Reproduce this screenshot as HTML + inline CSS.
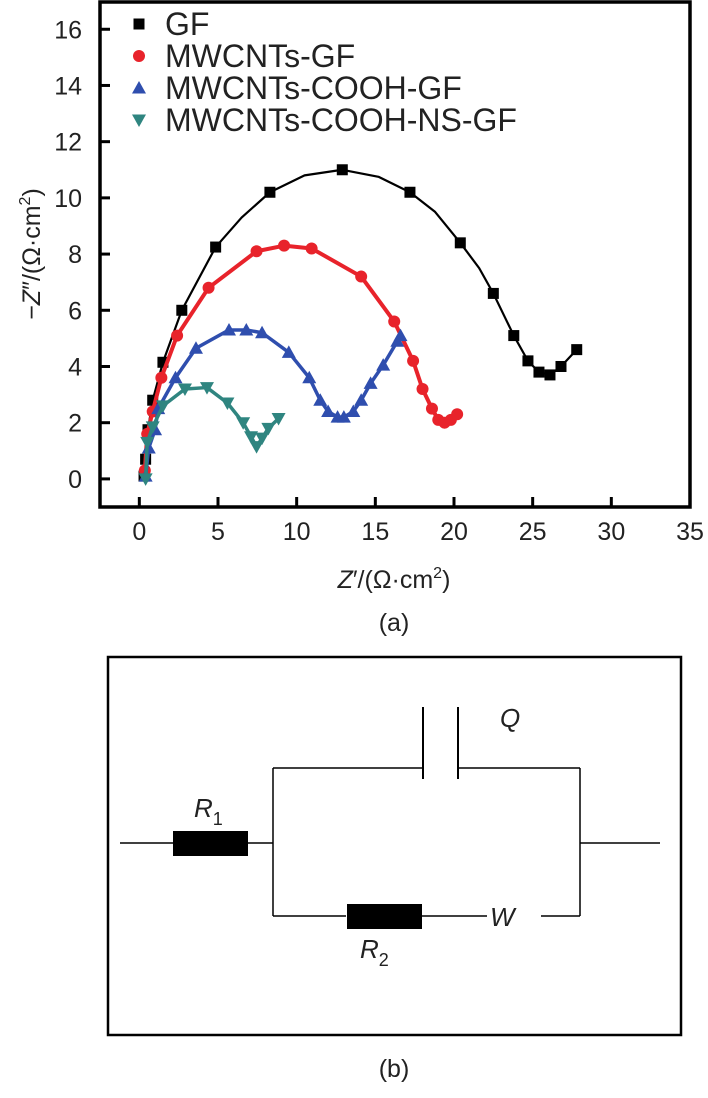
<!DOCTYPE html>
<html><head><meta charset="utf-8"><style>
html,body{margin:0;padding:0;background:#fff;}
svg{display:block;font-family:"Liberation Sans",Arial,sans-serif;}
</style></head><body>
<svg id="fig" width="708" height="1098" viewBox="0 0 708 1098">
<g id="chart"></g>
<g stroke="#000" fill="none">
  <rect x="108" y="657" width="573" height="378" stroke-width="2.5"/>
  <g stroke-width="1.5">
    <line x1="120" y1="843" x2="173" y2="843"/>
    <line x1="248" y1="843" x2="273" y2="843"/>
    <line x1="273" y1="768" x2="273" y2="916"/>
    <line x1="273" y1="768" x2="423" y2="768"/>
    <line x1="458" y1="768" x2="580" y2="768"/>
    <line x1="423" y1="707" x2="423" y2="779" stroke-width="2"/>
    <line x1="458" y1="707" x2="458" y2="779" stroke-width="2"/>
    <line x1="580" y1="768" x2="580" y2="916"/>
    <line x1="580" y1="843" x2="660" y2="843"/>
    <line x1="273" y1="916" x2="346" y2="916"/>
    <line x1="421" y1="916" x2="487" y2="916"/>
    <line x1="541" y1="916" x2="580" y2="916"/>
  </g>
  <rect x="173" y="831" width="75" height="25" fill="#000" stroke="none"/>
  <rect x="347" y="904" width="75" height="25" fill="#000" stroke="none"/>
  <g fill="#222" stroke="none" font-size="26" font-style="italic">
    <text x="194" y="817">R<tspan font-style="normal" font-size="18" dy="8">1</tspan></text>
    <text x="360" y="958">R<tspan font-style="normal" font-size="18" dy="8">2</tspan></text>
    <text x="500" y="727">Q</text>
    <text x="490" y="926">W</text>
  </g>
</g>
<text x="394" y="631" font-size="25" text-anchor="middle" fill="#222">(a)</text>
<text x="394" y="1077" font-size="25" text-anchor="middle" fill="#222">(b)</text>
</svg>
<script>
var xTicks=[0,5,10,15,20,25,30,35];
var yTicks=[0,2,4,6,8,10,12,14,16];
var seriesNames=["GF","MWCNTs-GF","MWCNTs-COOH-GF","MWCNTs-COOH-NS-GF"];
var gfX=[0.3,0.4,0.55,0.85,1.5,2.7,4.85,6.5,8.3,10.5,12.9,15.2,17.2,18.8,20.4,21.6,22.5,23.8,24.7,25.4,26.1,26.8,27.8];
var gfY=[0.1,0.7,1.75,2.8,4.15,6.0,8.25,9.3,10.2,10.8,11.0,10.75,10.2,9.5,8.4,7.5,6.6,5.1,4.2,3.8,3.7,4.0,4.6];
var gfMark=[1,1,1,1,1,1,1,0,1,0,1,0,1,0,1,0,1,1,1,1,1,1,1];
var mwX=[0.35,0.5,0.85,1.4,2.4,4.4,7.45,9.2,10.95,14.1,16.2,17.4,18.0,18.6,19.0,19.4,19.8,20.2];
var mwY=[0.3,1.6,2.4,3.6,5.1,6.8,8.1,8.3,8.2,7.2,5.6,4.2,3.2,2.5,2.1,2.0,2.1,2.3];
var cooX=[0.4,0.6,1.0,1.2,2.3,3.6,5.7,6.8,7.8,9.5,10.8,11.5,12.0,12.6,13.0,13.6,14.1,14.7,15.5,16.4,16.6];
var cooY=[0.1,1.1,1.75,2.5,3.6,4.65,5.3,5.3,5.2,4.5,3.6,2.8,2.4,2.2,2.2,2.4,2.8,3.4,4.05,4.9,5.1];
var nsX=[0.4,0.5,0.85,1.5,2.9,4.3,5.6,6.6,7.1,7.45,7.8,8.2,8.85];
var nsY=[0.0,1.3,1.85,2.6,3.2,3.25,2.7,2.0,1.5,1.15,1.45,1.8,2.15];

var NS="http://www.w3.org/2000/svg";
var L=100,R=690,T=2,B=507,XMIN=-2.5,XMAX=35,YMIN=-1,YMAX=16.97;
function sx(v){return L+(v-XMIN)/(XMAX-XMIN)*(R-L);}
function sy(v){return B-(v-YMIN)/(YMAX-YMIN)*(B-T);}
var g=document.getElementById('chart');
function mk(tag,attrs,parent){var e=document.createElementNS(NS,tag);for(var k in attrs)e.setAttribute(k,attrs[k]);(parent||g).appendChild(e);return e;}
var col=["#000000","#e8232b","#2f4eae","#2f8580"];
var lw=[2.2,4,3.5,3.5];
var xs=[gfX,mwX,cooX,nsX],ys=[gfY,mwY,cooY,nsY];
function marker(i,x,y,par){
  var e;
  if(i===0){e=mk('rect',{x:x-5.5,y:y-5.5,width:11,height:11,fill:col[0]},par);}
  else if(i===1){e=mk('circle',{cx:x,cy:y,r:6,fill:col[1]},par);}
  else if(i===2){e=mk('polygon',{points:(x)+','+(y-7)+' '+(x-7)+','+(y+5.5)+' '+(x+7)+','+(y+5.5),fill:col[2]},par);}
  else {e=mk('polygon',{points:(x)+','+(y+7)+' '+(x-7)+','+(y-5.5)+' '+(x+7)+','+(y-5.5),fill:col[3]},par);}
  return e;
}
for(var i=0;i<4;i++){
  var sg=mk('g',{});
  
  
  var pts=xs[i].map(function(v,j){return sx(v)+','+sy(ys[i][j]);}).join(' ');
  var pl=mk('polyline',{points:pts,fill:'none',stroke:col[i],'stroke-width':lw[i],'stroke-linejoin':'round'},sg);
  
  
  for(var j=0;j<xs[i].length;j++){
    if(i===0&&!gfMark[j])continue;
    var m=marker(i,sx(xs[i][j]),sy(ys[i][j]),sg);
    
    
  }
}
var fr=mk('rect',{x:L,y:T,width:R-L,height:B-T,fill:'none',stroke:'#000','stroke-width':3.5});


xTicks.forEach(function(t){
  var x=sx(t);
  var tl=mk('line',{x1:x,y1:B,x2:x,y2:B-10,stroke:'#000','stroke-width':3});
  
  
  var tx=mk('text',{x:x,y:B+33,'font-size':25,'text-anchor':'middle',fill:'#222'});
  tx.textContent=t;
  
  
});
yTicks.forEach(function(t){
  var y=sy(t);
  var tl=mk('line',{x1:L,y1:y,x2:L+10,y2:y,stroke:'#000','stroke-width':3});
  
  
  var tx=mk('text',{x:L-18,y:y+9,'font-size':25,'text-anchor':'end',fill:'#222'});
  tx.textContent=t;
  
  
});
var xt=mk('text',{x:394,y:588,'font-size':25,'text-anchor':'middle',fill:'#222'});
xt.innerHTML='<tspan font-style="italic">Z</tspan>\u2032/(\u03A9\u00B7cm<tspan font-size="16" dy="-10">2</tspan><tspan dy="10">)</tspan>';


var yt=mk('text',{x:0,y:0,'font-size':25,'text-anchor':'middle',fill:'#222',transform:'translate(40,254) rotate(-90)'});
yt.innerHTML='\u2212<tspan font-style="italic">Z</tspan>\u2033/(\u03A9\u00B7cm<tspan font-size="16" dy="-10">2</tspan><tspan dy="10">)</tspan>';


var lg=mk('g',{});


var rowsY=[24,56,88,120];
for(var i=0;i<4;i++){
  var m=marker(i,139,rowsY[i],lg);
  
  
  var t=mk('text',{x:165,y:rowsY[i]+11,'font-size':32,fill:'#222'},lg);
  t.textContent=seriesNames[i];
  
  
}
</script>
</body></html>
